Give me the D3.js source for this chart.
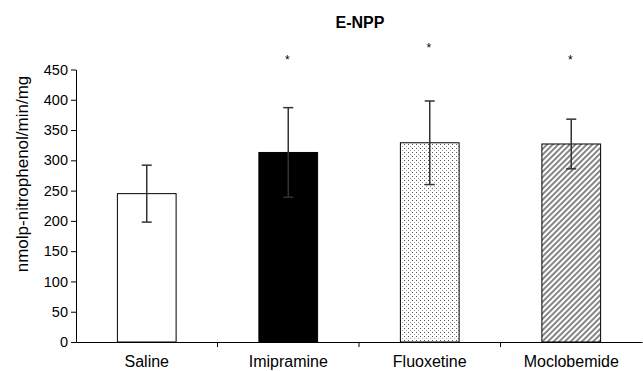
<!DOCTYPE html>
<html>
<head>
<meta charset="utf-8">
<script src="https://cdn.jsdelivr.net/npm/d3@7"></script>
<style>
  body { margin: 0; background: #fff; }
  text { font-family: "Liberation Sans", Arial, sans-serif; }
</style>
</head>
<body>
<script>
const svgWidth = 643
const svgHeight = 371

// data
const groups = ["Saline", "Imipramine", "Fluoxetine", "Moclobemide"]
const means = [245, 313, 329, 327]
const errors = [47, 74, 69, 41]
const starValues = [null, 470, 491, 470]
const yTicks = [0, 50, 100, 150, 200, 250, 300, 350, 400, 450]

const fills = ["#ffffff", "#000000", "url(#dots)", "url(#hatch)"]

const plot = { left: 76, right: 642, top: 69.5, bottom: 342 }

const svg = d3.select("body").append("svg")
    .attr("width", svgWidth)
    .attr("height", svgHeight)

const defs = svg.append("defs")

const dots = defs.append("pattern")
    .attr("id", "dots")
    .attr("patternUnits", "userSpaceOnUse")
    .attr("width", 4)
    .attr("height", 4)
dots.append("rect").attr("width", 4).attr("height", 4).attr("fill", "#fff")
dots.append("rect").attr("x", 0).attr("y", 0).attr("width", 1).attr("height", 1).attr("fill", "#555")
dots.append("rect").attr("x", 2).attr("y", 2).attr("width", 1).attr("height", 1).attr("fill", "#999")

const hatch = defs.append("pattern")
    .attr("id", "hatch")
    .attr("patternUnits", "userSpaceOnUse")
    .attr("width", 4)
    .attr("height", 4)
    .attr("patternTransform", "rotate(45)")
hatch.append("rect").attr("width", 4).attr("height", 4).attr("fill", "#fff")
hatch.append("line")
    .attr("x1", 1).attr("y1", 0).attr("x2", 1).attr("y2", 4)
    .attr("stroke", "#444")
    .attr("stroke-width", 1.3)

const x = d3.scaleBand()
    .domain(groups)
    .range([plot.left, plot.right])
    .paddingInner(0.585)
    .paddingOuter(0.2925)

const xOuter = d3.scaleBand()
    .domain(groups)
    .range([plot.left, plot.right])

const y = d3.scaleLinear()
    .domain([0, 450])
    .range([plot.bottom, plot.top])

// title
svg.append("text")
    .attr("x", 360)
    .attr("y", 28)
    .attr("text-anchor", "middle")
    .attr("font-size", 16)
    .attr("font-weight", "bold")
    .text("E-NPP")

// y axis
const yAxis = d3.axisLeft(y)
    .tickValues(yTicks)
    .tickSize(5)
    .tickSizeOuter(0)

const yG = svg.append("g")
    .attr("transform", `translate(${plot.left},0)`)
    .call(yAxis)
yG.selectAll("text")
    .attr("font-family", "Liberation Sans, Arial, sans-serif")
    .attr("font-size", 14.5)
    .attr("fill", "#000")
    .attr("x", -8)
yG.selectAll("line, path").attr("stroke", "#000")

svg.append("text")
    .attr("transform", "translate(28,174) rotate(-90)")
    .attr("text-anchor", "middle")
    .attr("font-size", 17)
    .text("nmolp-nitrophenol/min/mg")

// bars
const data = groups.map((g, i) => ({ g, mean: means[i], err: errors[i], fill: fills[i], star: starValues[i] }))

svg.selectAll("rect.bar")
    .data(data)
    .join("rect")
    .attr("class", "bar")
    .attr("x", d => x(d.g))
    .attr("y", d => y(d.mean))
    .attr("width", x.bandwidth())
    .attr("height", d => y(0) - y(d.mean))
    .attr("fill", d => d.fill)
    .attr("stroke", "#000")
    .attr("stroke-width", 1)

// error bars
const errG = svg.append("g")
    .attr("stroke", "#333")
    .attr("stroke-width", 1.5)
data.forEach(d => {
    const cx = x(d.g) + x.bandwidth() / 2
    errG.append("line")
        .attr("x1", cx).attr("x2", cx)
        .attr("y1", y(d.mean - d.err)).attr("y2", y(d.mean + d.err))
    errG.append("line")
        .attr("x1", cx - 5).attr("x2", cx + 5)
        .attr("y1", y(d.mean + d.err)).attr("y2", y(d.mean + d.err))
    errG.append("line")
        .attr("x1", cx - 5).attr("x2", cx + 5)
        .attr("y1", y(d.mean - d.err)).attr("y2", y(d.mean - d.err))
})

// significance stars
svg.selectAll("text.star")
    .data(data.filter(d => d.star != null))
    .join("text")
    .attr("class", "star")
    .attr("x", d => x(d.g) + x.bandwidth() / 2 - 1)
    .attr("y", d => y(d.star) + 7)
    .attr("text-anchor", "middle")
    .attr("font-size", 12)
    .text("*")

// x axis
const xAxis = d3.axisBottom(xOuter)
    .tickSize(0)
    .tickPadding(14)

const xG = svg.append("g")
    .attr("transform", `translate(0,${plot.bottom})`)
    .call(xAxis)
xG.select(".domain").attr("stroke", "#000")
xG.selectAll("text")
    .attr("font-family", "Liberation Sans, Arial, sans-serif")
    .attr("font-size", 16)
    .attr("fill", "#000")

// category separator ticks
xG.selectAll("line.sep")
    .data(groups.slice(1))
    .join("line")
    .attr("class", "sep")
    .attr("x1", d => xOuter(d)).attr("x2", d => xOuter(d))
    .attr("y1", 0).attr("y2", 5)
    .attr("stroke", "#000")
</script>
</body>
</html>
